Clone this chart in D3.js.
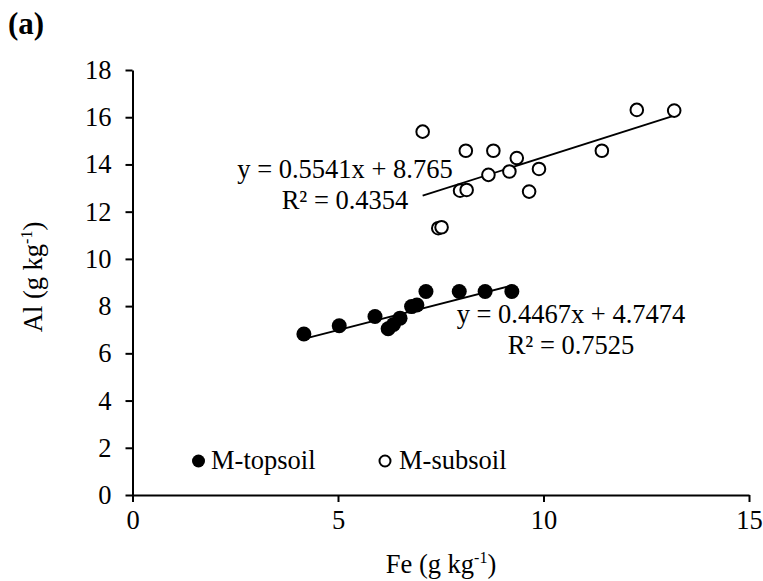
<!DOCTYPE html>
<html>
<head>
<meta charset="utf-8">
<script src="https://cdn.jsdelivr.net/npm/d3@7"></script>
<style>
  html, body { margin: 0; padding: 0; background: #fff; }
  svg { display: block; }
  text { font-family: "Liberation Serif", "Times New Roman", serif; fill: #000; }
</style>
</head>
<body>
<svg id="chart" width="763" height="581"></svg>
<script>
// ---- data ----
const topsoilFe = [4.17, 5.03, 5.90, 6.22, 6.35, 6.51, 6.79, 6.92, 7.14, 7.95, 8.58, 9.23];
const topsoilAl = [6.82, 7.17, 7.56, 7.04, 7.22, 7.49, 7.98, 8.05, 8.62, 8.62, 8.62, 8.62];
const subsoilFe = [7.06, 8.11, 8.78, 9.35, 9.89, 8.66, 9.17, 9.65, 7.97, 8.13, 7.44, 7.52, 11.42, 12.27, 13.18];
const subsoilAl = [15.39, 14.58, 14.58, 14.27, 13.81, 13.56, 13.70, 12.85, 12.89, 12.92, 11.30, 11.34, 14.58, 16.31, 16.28];
const topsoilFit = [0.4467, 4.7474];   // slope, intercept
const subsoilFit = [0.5541, 8.765];
const xTicks = [0, 5, 10, 15];
const yTicks = [0, 2, 4, 6, 8, 10, 12, 14, 16, 18];
const seriesNames = ["M-topsoil", "M-subsoil"];
const eqTop = ["y = 0.4467x + 4.7474", "R² = 0.7525"];
const eqSub = ["y = 0.5541x + 8.765", "R² = 0.4354"];

const svg = d3.select("#chart");
const x = d3.scaleLinear().domain([0, 15]).range([132.5, 749]);
const y = d3.scaleLinear().domain([0, 18]).range([495, 70]);
const FS = 26.5;

// panel label
svg.append("text").attr("x", 8).attr("y", 34).attr("font-size", 31).attr("font-weight", "bold").text("(a)");

// axes
const xAxis = d3.axisBottom(x).tickValues(xTicks).tickSize(7).tickSizeOuter(0).tickFormat(d3.format("d"));
const yAxis = d3.axisLeft(y).tickValues(yTicks).tickSize(7).tickSizeOuter(0).tickFormat(d3.format("d"));

const gx = svg.append("g").attr("transform", `translate(0,${y(0)})`).call(xAxis);
const gy = svg.append("g").attr("transform", `translate(${x(0)},0)`).call(yAxis);
[gx, gy].forEach(g => {
  g.select(".domain").attr("stroke", "#000").attr("stroke-width", 2);
  g.selectAll(".tick line").attr("stroke", "#000").attr("stroke-width", 2);
  g.selectAll(".tick text").attr("font-family", "Liberation Serif").attr("font-size", FS).attr("fill", "#000");
});
gx.selectAll(".tick text").attr("dy", "0.71em").attr("y", 15);
gy.selectAll(".tick text").attr("x", -21);

// axis titles
const xt = svg.append("text").attr("x", 441).attr("y", 573).attr("text-anchor", "middle").attr("font-size", FS);
xt.append("tspan").text("Fe (g kg");
xt.append("tspan").attr("font-size", 16).attr("dy", -10).text("-1");
xt.append("tspan").attr("dy", 10).text(")");

const yt = svg.append("text").attr("transform", "translate(42,277) rotate(-90)").attr("text-anchor", "middle").attr("font-size", FS);
yt.append("tspan").text("Al (g kg");
yt.append("tspan").attr("font-size", 16).attr("dy", -10).text("-1");
yt.append("tspan").attr("dy", 10).text(")");

// trend lines
function fitLine(xs, fit) {
  const lo = d3.min(xs), hi = d3.max(xs);
  return [[lo, fit[0] * lo + fit[1]], [hi, fit[0] * hi + fit[1]]];
}
const line = d3.line().x(d => x(d[0])).y(d => y(d[1]));
svg.append("path").attr("d", line(fitLine(topsoilFe, topsoilFit))).attr("stroke", "#000").attr("stroke-width", 1.8).attr("fill", "none");
svg.append("path").attr("d", line(fitLine(subsoilFe, subsoilFit))).attr("stroke", "#000").attr("stroke-width", 1.8).attr("fill", "none");

// points
const topPts = topsoilFe.map((v, i) => [v, topsoilAl[i]]);
const subPts = subsoilFe.map((v, i) => [v, subsoilAl[i]]);
svg.append("g").selectAll("circle").data(subPts).join("circle")
  .attr("cx", d => x(d[0])).attr("cy", d => y(d[1])).attr("r", 6.3)
  .attr("fill", "#fff").attr("stroke", "#000").attr("stroke-width", 2);
svg.append("g").selectAll("circle").data(topPts).join("circle")
  .attr("cx", d => x(d[0])).attr("cy", d => y(d[1])).attr("r", 7.5)
  .attr("fill", "#000");

// equations
function eq(lines, cx, y0) {
  lines.forEach((t, i) => {
    svg.append("text").attr("x", cx).attr("y", y0 + i * 30.5).attr("text-anchor", "middle").attr("font-size", FS).text(t);
  });
}
eq(eqSub, 345, 178);
eq(eqTop, 571, 323);

// legend
const lg = svg.append("g");
lg.append("circle").attr("cx", 198.5).attr("cy", 461).attr("r", 6.5).attr("fill", "#000");
lg.append("text").attr("x", 211).attr("y", 469).attr("font-size", FS).text(seriesNames[0]);
lg.append("circle").attr("cx", 385).attr("cy", 461).attr("r", 5.5).attr("fill", "#fff").attr("stroke", "#000").attr("stroke-width", 2);
lg.append("text").attr("x", 399).attr("y", 469).attr("font-size", FS).text(seriesNames[1]);
</script>
</body>
</html>
